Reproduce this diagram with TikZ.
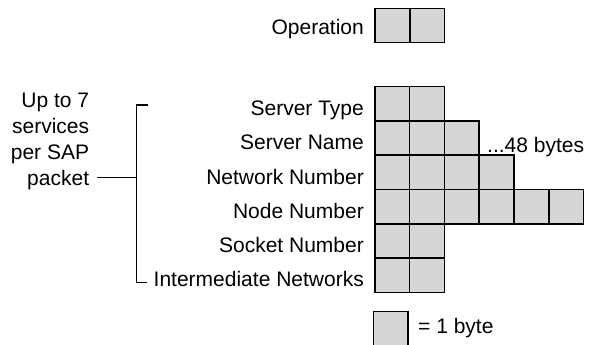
\documentclass[tikz,border=0pt]{standalone}
\usepackage{fontspec}
\setmainfont{Liberation Sans}
\tikzset{
  cell/.style={draw, line width=1.5pt, fill=black!16, minimum width=34.8pt,
    minimum height=34.3pt, inner sep=0pt, outer sep=0pt, anchor=north west},
  lbl/.style={font=\fontsize{21}{26}\selectfont, inner sep=0pt, anchor=base east},
  lblw/.style={font=\fontsize{21}{26}\selectfont, inner sep=0pt, anchor=base west},
  bracket/.style={line width=1.4pt}
}
\begin{document}
\begin{tikzpicture}[x=1pt,y=-1pt]
\useasboundingbox (0,0) rectangle (589,345);
% Operation
\node[cell] (op1) at (375,8.3) {};
\node[cell] (op2) at (op1.north east) {};
\node[lbl] (opL) at (364,35) {Operation};
% service rows
\foreach \r/\n/\name [count=\i from 0] in {st/2/Server Type, sn/3/Server Name,
    nn/4/Network Number, nd/6/Node Number, sk/2/Socket Number,
    im/2/Intermediate Networks}{
  \foreach \c in {1,...,\n}{
    \node[cell] (\r\c) at ({374.8+(\c-1)*34.8},{86.7+\i*34.27}) {};
  }
  \node[lbl] (\r L) at (364,{86.7+(\i+1)*34.27-5.5}) {\name};
}
\node[lblw] (more) at (487,152) {...48 bytes};
% left labels
\node[lbl] (up) at (89.3,107) {Up to 7};
\node[lbl] (sv) at (89.3,133) {services};
\node[lbl] (ps) at (89.3,159) {per SAP};
\node[lbl] (pk) at (89.3,185) {packet};
% bracket
\coordinate (bTR) at (148,105);
\coordinate (bTL) at (136.7,105);
\coordinate (bBL) at (136.7,282.7);
\coordinate (bBR) at (146.7,282.7);
\coordinate (bmid) at (136.7,177.7);
\draw[bracket] (bTR) -- (bTL) -- (bBL) -- (bBR);
\draw[bracket] ([xshift=7.4pt]pk.east |- bmid) -- (bmid);
% legend
\node[cell] (key) at (373.3,311.7) {};
\node[lblw] (keyL) at (418,333) {= 1 byte};
\end{tikzpicture}
\end{document}
